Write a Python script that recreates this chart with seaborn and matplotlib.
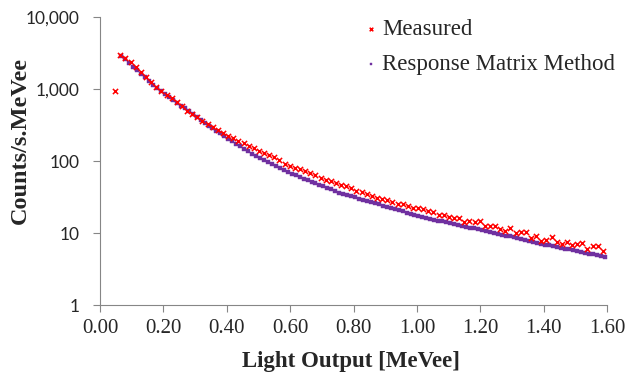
import matplotlib
matplotlib.use("Agg")
import matplotlib.pyplot as plt
import seaborn as sns
import pandas as pd
from matplotlib.ticker import FixedLocator, FixedFormatter, NullLocator

# ---------------- data ----------------
measured_x = [0.048, 0.064, 0.080, 0.097, 0.113, 0.129, 0.145, 0.161, 0.178, 0.194,
              0.210, 0.226, 0.242, 0.259, 0.275, 0.291, 0.307, 0.323, 0.340, 0.356,
              0.372, 0.388, 0.404, 0.421, 0.437, 0.453, 0.469, 0.485, 0.502, 0.518,
              0.534, 0.550, 0.566, 0.583, 0.599, 0.615, 0.631, 0.647, 0.664, 0.680,
              0.696, 0.712, 0.728, 0.745, 0.761, 0.777, 0.793, 0.809, 0.826, 0.842,
              0.858, 0.874, 0.890, 0.907, 0.923, 0.939, 0.955, 0.971, 0.988, 1.004,
              1.020, 1.036, 1.052, 1.069, 1.085, 1.101, 1.117, 1.133, 1.150, 1.166,
              1.182, 1.198, 1.214, 1.231, 1.247, 1.263, 1.279, 1.295, 1.312, 1.328,
              1.344, 1.360, 1.376, 1.393, 1.409, 1.425, 1.441, 1.457, 1.474, 1.490,
              1.506, 1.522, 1.538, 1.555, 1.571, 1.587]
measured_y = [926, 2970, 2700, 2340, 2040, 1700, 1480, 1240, 1075, 950,
              835, 750, 650, 573, 500, 450, 405, 363, 325, 293,
              270, 246, 225, 206, 191, 176, 163, 150, 139, 128,
              121, 112, 103, 91, 86, 81, 77, 73, 69, 64,
              58, 55, 52, 50, 47, 44.5, 42, 38.6, 36.6, 34.7,
              33, 30.6, 29.6, 28.7, 26.6, 25.2, 25.2, 23.4, 22, 22.2,
              21.5, 20, 19.3, 17.8, 17.8, 16.5, 16.2, 16.2, 14, 14.8,
              14, 14.5, 12.6, 12.6, 12.6, 11.4, 10.8, 11.6, 9.9, 10.2,
              10.2, 8.5, 9.2, 7.8, 7.9, 8.7, 7.4, 7.0, 7.4, 6.9,
              7.0, 7.2, 6.0, 6.5, 6.5, 5.6]

rmm_x = [0.0675, 0.08, 0.0925, 0.105, 0.1175, 0.13, 0.1425, 0.155, 0.1675, 0.18,
         0.1925, 0.205, 0.2175, 0.23, 0.2425, 0.255, 0.2675, 0.28, 0.2925, 0.305,
         0.3175, 0.33, 0.3425, 0.355, 0.3675, 0.38, 0.3925, 0.405, 0.4175, 0.43,
         0.4425, 0.455, 0.4675, 0.48, 0.4925, 0.505, 0.5175, 0.53, 0.5425, 0.555,
         0.5675, 0.58, 0.5925, 0.605, 0.6175, 0.63, 0.6425, 0.655, 0.6675, 0.68,
         0.6925, 0.705, 0.7175, 0.73, 0.7425, 0.755, 0.7675, 0.78, 0.7925, 0.805,
         0.8175, 0.83, 0.8425, 0.855, 0.8675, 0.88, 0.8925, 0.905, 0.9175, 0.93,
         0.9425, 0.955, 0.9675, 0.98, 0.9925, 1.005, 1.0175, 1.03, 1.0425, 1.055,
         1.0675, 1.08, 1.0925, 1.105, 1.1175, 1.13, 1.1425, 1.155, 1.1675, 1.18,
         1.1925, 1.205, 1.2175, 1.23, 1.2425, 1.255, 1.2675, 1.28, 1.2925, 1.305,
         1.3175, 1.33, 1.3425, 1.355, 1.3675, 1.38, 1.3925, 1.405, 1.4175, 1.43,
         1.4425, 1.455, 1.4675, 1.48, 1.4925, 1.505, 1.5175, 1.53, 1.5425, 1.555,
         1.5675, 1.58, 1.5925]
rmm_y = [2884, 2570, 2291, 2042, 1820, 1622, 1445, 1288, 1148, 1023,
         933, 851, 776, 708, 646, 589, 537, 490, 447, 407,
         372, 339, 309, 284, 262, 242, 222, 205, 189, 174,
         160, 148, 136, 125, 117, 110, 104, 97.3, 91.2, 85.7,
         80.4, 75.5, 70.8, 66.5, 63.2, 60.1, 57.1, 54.3, 51.6, 49.2,
         46.8, 44.5, 42.3, 40.2, 38.2, 36.3, 35.0, 33.7, 32.4, 31.3,
         30.1, 29.0, 27.9, 26.9, 25.9, 25.0, 24.0, 23.2, 22.3, 21.5,
         20.7, 20.0, 19.2, 18.5, 17.8, 17.2, 16.7, 16.3, 15.8, 15.3,
         14.9, 14.5, 14.1, 13.7, 13.3, 13.0, 12.6, 12.2, 11.9, 11.6,
         11.2, 10.9, 10.6, 10.3, 10.05, 9.75, 9.48, 9.20, 8.95, 8.69,
         8.45, 8.20, 7.98, 7.74, 7.53, 7.31, 7.11, 6.90, 6.73, 6.56,
         6.38, 6.22, 6.07, 5.92, 5.75, 5.61, 5.47, 5.33, 5.19, 5.06,
         4.93, 4.81, 4.68]

x_ticks = [0.0, 0.2, 0.4, 0.6, 0.8, 1.0, 1.2, 1.4, 1.6]
x_tick_labels = ["0.00", "0.20", "0.40", "0.60", "0.80", "1.00", "1.20", "1.40", "1.60"]
y_ticks = [1, 10, 100, 1000, 10000]
y_tick_labels = ["1", "10", "100", "1,000", "10,000"]

series_names = ["Measured", "Response Matrix Method"]
x_title = "Light Output [MeVee]"
y_title = "Counts/s.MeVee"

df_meas = pd.DataFrame({"x": measured_x, "y": measured_y})
df_rmm = pd.DataFrame({"x": rmm_x, "y": rmm_y})

# ---------------- figure ----------------
sns.set_theme(style="white")
plt.rcParams["font.family"] = ["Liberation Serif", "DejaVu Serif"]

W, H = 634, 383
fig = plt.figure(figsize=(W / 100, H / 100), dpi=100)
ax = fig.add_axes([100 / W, 1 - 305 / H, (607 - 100) / W, (305 - 17) / H])

red = "#FF0000"
purple = "#7030A0"

sns.scatterplot(data=df_rmm, x="x", y="y", ax=ax, marker="s", s=9, color=purple,
                edgecolor=purple, linewidth=0.3, label=series_names[1], zorder=3)
sns.scatterplot(data=df_meas, x="x", y="y", ax=ax, marker="x", s=14, color=red,
                linewidth=1.1, label=series_names[0], zorder=4)

ax.set_yscale("log")
ax.set_xlim(0, 1.6)
ax.set_ylim(1, 10000)

ax.xaxis.set_major_locator(FixedLocator(x_ticks))
ax.xaxis.set_major_formatter(FixedFormatter(x_tick_labels))
ax.yaxis.set_major_locator(FixedLocator(y_ticks))
ax.yaxis.set_major_formatter(FixedFormatter(y_tick_labels))
ax.yaxis.set_minor_locator(NullLocator())
ax.xaxis.set_minor_locator(NullLocator())

gray = "#868686"
for side in ["top", "right"]:
    ax.spines[side].set_visible(False)
for side in ["left", "bottom"]:
    ax.spines[side].set_color(gray)
    ax.spines[side].set_linewidth(0.8)

ax.tick_params(axis="both", which="major", direction="out", color=gray,
               width=0.8, length=5, left=True, bottom=True)
ax.tick_params(axis="x", pad=5, labelsize=15)
ax.tick_params(axis="y", pad=10, labelsize=12.5)
for lab in ax.get_xticklabels():
    lab.set_family(["Liberation Serif"])
for lab in ax.get_yticklabels():
    lab.set_family(["Lato", "DejaVu Sans"])

ax.set_xlabel("")
ax.set_ylabel("")
fig.text(351 / W, 1 - 362 / H, x_title, ha="center", va="center",
         fontsize=16.5, fontweight="bold", family=["Liberation Serif"])
fig.text(20 / W, 1 - 140 / H, y_title, ha="center", va="center", rotation=90,
         fontsize=17.5, fontweight="bold", family=["Liberation Serif"])

handles, labels = ax.get_legend_handles_labels()
order = [labels.index(series_names[0]), labels.index(series_names[1])]
leg = ax.legend([handles[i] for i in order], [labels[i] for i in order],
                loc="upper left", bbox_to_anchor=(364 / W, 1 - 19 / H),
                bbox_transform=fig.transFigure, frameon=False,
                prop={"family": "Liberation Serif", "size": 16.5},
                handlelength=0.6, handletextpad=0.2, labelspacing=0.6,
                borderpad=0, borderaxespad=0, markerscale=0.7)

fig.savefig("out.png", dpi=100)
